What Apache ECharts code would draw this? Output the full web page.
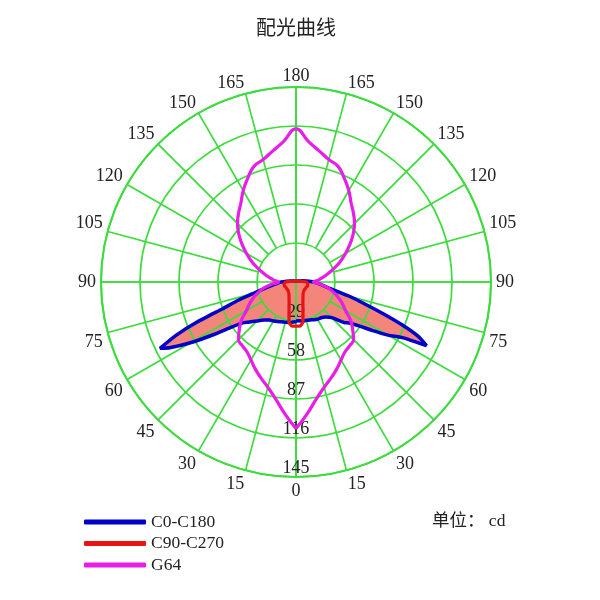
<!DOCTYPE html>
<html>
<head>
<meta charset="utf-8">
<script src="https://cdn.jsdelivr.net/npm/echarts@6/dist/echarts.min.js"></script>
<style>html,body{margin:0;padding:0;background:#fff}#c{width:600px;height:600px}</style>
</head>
<body>
<div id="c"></div>
<script>
// Gamma angles (0 = nadir, 180 = zenith) for the C0/C180 plane (finer near the peak)
const gammaFine = [0,5,10,15,20,25,30,35,40,45,50,52.5,55,57.5,60,62.5,64,66,68,70,72.5,75,80,85,90,95,100,105,110,120,130,140,150,160,170,180];
// Intensity (cd) in the C0 half-plane (right side)
const c0 = [29,29,29.5,29.5,30,31,32,32.5,34,37.5,47,50,56.5,67,79,90,108,99.5,85,69,52.5,41,24,18,13,8,5,3,2,1.5,1,1,1,1,1,1];
// Intensity (cd) in the C180 half-plane (left side)
const c180 = [29.5,30,30.5,31,31.5,32.5,33.5,34.5,37,41,46.5,50,58.5,73,90,106,112.5,98,79,58,45,33,21,15,11,7,4.5,3,2,1.5,1,1,1,1,1,1];

// Gamma angles in 5 degree steps for the other curves
const gamma5 = [0,5,10,15,20,25,30,35,40,45,50,55,60,65,70,75,80,85,90,95,100,105,110,115,120,125,130,135,140,145,150,155,160,165,170,175,180];
// C90 / C270 half-planes (cd)
const c90  = [32.7,33,30,20,15,12.3,10.5,9.5,9,8.5,8.5,8.5,8.5,8.5,9,9,9,8.5,7.5,5,3,2,1.5,1,1,1,1,1,1,1,1,1,1,1,1,1,1];
const c270 = [32.7,33,30,20,15,12.3,10.5,9.5,9,8.5,8.5,8.5,8.5,8.5,9,9,9,8.5,7.5,5,3,2,1.5,1,1,1,1,1,1,1,1,1,1,1,1,1,1];
// G64 curve (cd), symmetric on both sides
const g64 = [109,98,88,81,76,71.5,67,63.5,62,60.5,55,49.5,42.5,38,33.5,28.5,23.5,18,13,16.5,20.5,25,30.5,36.5,42.5,49,55.5,61.5,66.5,71.5,78.5,85,91.5,94.3,99,105,113.8];

// Axis settings
const radiusMax = 145;
const radiusStep = 29;
const angleStep = 15;

const SERIF = '"Liberation Serif", "Noto Sans CJK SC", serif';
const GRID = '#3cdc3c';
const TXT = '#222';

function plane(right, left, angles) {
  const pts = [];
  angles.forEach((a, i) => pts.push([right[i], a]));
  for (let i = angles.length - 1; i >= 0; i--) pts.push([left[i], 360 - angles[i]]);
  return pts;
}

const dC0 = plane(c0, c180, gammaFine);
const dC90 = plane(c90, c270, gamma5);
const dG = plane(g64, g64, gamma5);

const lab = {fontSize: 18, fontFamily: SERIF, color: TXT};
const st = o => Object.assign({}, lab, o);
const rich = {
  u: st({lineHeight: 12}),
  pl3u: st({lineHeight: 12, padding: [0, 0, 0, 27]}),
  pr3u: st({lineHeight: 12, padding: [0, 27, 0, 0]}),
  pl2: st({padding: [0, 0, 0, 18]}),
  pr2: st({padding: [0, 18, 0, 0]}),
  pb: st({lineHeight: 13, padding: [0, 0, 14, 0]}),
  pt: st({padding: [18, 0, 0, 0]})
};
function angleLabel(v) {
  if (v >= 360) return '';
  const t = v <= 180 ? v : 360 - v;
  const s = String(t);
  const right = v < 180;
  if (t === 165) return '{' + (right ? 'pl3u' : 'pr3u') + '|' + s + '}';
  if (t === 15) return '{' + (right ? 'pl2' : 'pr2') + '|' + s + '}';
  if (t === 105) return '{pb|' + s + '}';
  if (t === 75) return '{pt|' + s + '}';
  if (t > 105) return '{u|' + s + '}';
  return s;
}

const chart = echarts.init(document.getElementById('c'), null, {renderer: 'canvas'});
chart.setOption({
  animation: false,
  backgroundColor: '#fff',
  title: [
    {text: '配光曲线', left: 256, top: 20, padding: 0,
     textStyle: {fontSize: 20, fontWeight: 'normal', color: TXT, fontFamily: SERIF}},
    {text: '单位： cd', left: 432, top: 513, padding: 0,
     textStyle: {fontSize: 17.5, fontWeight: 'normal', color: TXT, fontFamily: SERIF}}
  ],
  legend: {
    data: ['C0-C180', 'C90-C270', 'G64'],
    orient: 'vertical', left: 84, top: 513, padding: 0,
    itemWidth: 62, itemHeight: 5, itemGap: 3.5, icon: 'roundRect',
    selectedMode: false,
    textStyle: {fontSize: 17.5, color: TXT, fontFamily: SERIF, lineHeight: 18}
  },
  polar: [
    {center: [296, 282], radius: 195},
    {center: [296, 282], radius: [39, 195]}
  ],
  angleAxis: [
    {polarIndex: 0, type: 'value', min: 0, max: 360, interval: 90, startAngle: -90, clockwise: false, z: 1,
     axisLine: {show: true, lineStyle: {color: GRID, width: 2}},
     axisTick: {show: false}, axisLabel: {show: false},
     splitLine: {show: true, lineStyle: {color: GRID, width: 1.7}}},
    {polarIndex: 1, type: 'value', min: 0, max: 360, interval: angleStep, startAngle: -90, clockwise: false, z: 1,
     axisLine: {show: false}, axisTick: {show: false},
     axisLabel: {show: true, margin: 5, fontSize: 18, color: TXT, fontFamily: SERIF,
       formatter: angleLabel, rich: rich},
     splitLine: {show: true, lineStyle: {color: GRID, width: 1.7}}}
  ],
  radiusAxis: [
    {polarIndex: 0, type: 'value', min: 0, max: radiusMax, interval: radiusStep, z: 1,
     axisLine: {show: false}, axisTick: {show: false},
     axisLabel: {show: true, margin: 0, rotate: 0, align: 'center', verticalAlign: 'bottom',
       fontSize: 18, color: TXT, fontFamily: SERIF, formatter: v => (v === 0 ? '' : String(v))},
     splitLine: {show: true, lineStyle: {color: GRID, width: 1.7}}},
    {polarIndex: 1, type: 'value', min: 0, max: radiusMax, z: 1,
     axisLine: {show: false}, axisTick: {show: false}, axisLabel: {show: false}, splitLine: {show: false}}
  ],
  series: [
    {name: 'fill', type: 'line', coordinateSystem: 'polar', polarIndex: 0, data: dC0,
     symbol: 'none', silent: true, z: 0, smooth: 0.15,
     lineStyle: {opacity: 0, width: 0}, areaStyle: {color: '#f4857b', opacity: 1}},
    {name: 'C0-C180', type: 'line', coordinateSystem: 'polar', polarIndex: 0, data: dC0,
     symbol: 'none', z: 3, smooth: 0.15, color: '#0000c8', lineStyle: {color: '#0000c8', width: 3.5}},
    {name: 'G64', type: 'line', coordinateSystem: 'polar', polarIndex: 0, data: dG,
     symbol: 'none', z: 3, smooth: 0.5, color: '#e61ee6', lineStyle: {color: '#e61ee6', width: 3.2}},
    {name: 'C90-C270', type: 'line', coordinateSystem: 'polar', polarIndex: 0, data: dC90,
     symbol: 'none', z: 4, smooth: 0.2, color: '#e81414', lineStyle: {color: '#e81414', width: 3.2}}
  ]
});
</script>
</body>
</html>
